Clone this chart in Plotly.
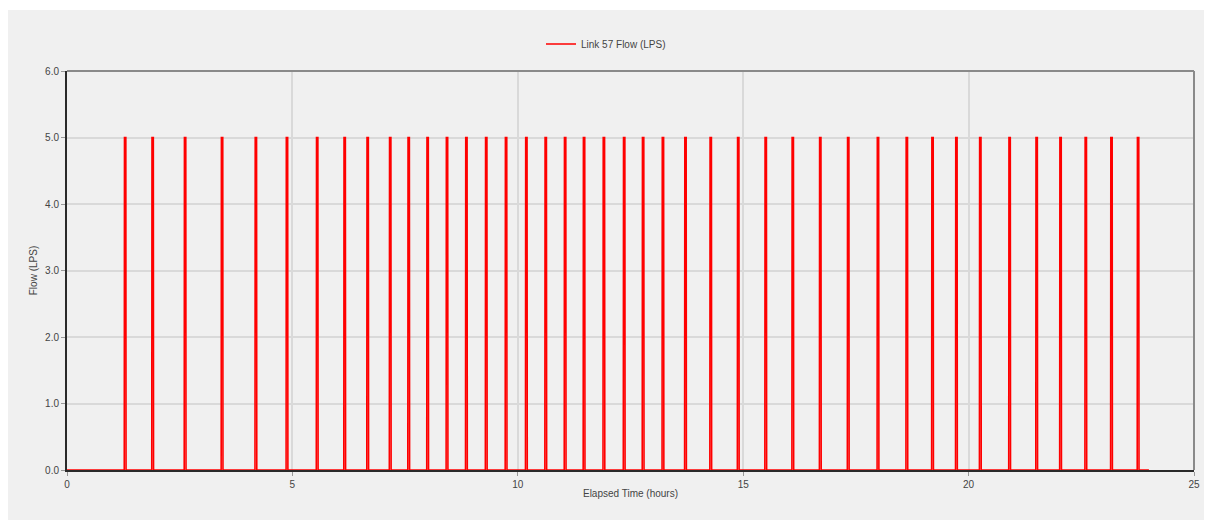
import plotly.graph_objects as go

# Spike (pump-on) start times, hours
spike_times = [1.27, 1.88, 2.60, 3.42, 4.17, 4.86, 5.53, 6.14, 6.65, 7.15,
               7.56, 7.98, 8.41, 8.84, 9.28, 9.72, 10.17, 10.60, 11.03, 11.45,
               11.89, 12.34, 12.76, 13.20, 13.70, 14.26, 14.87, 15.48, 16.08, 16.69,
               17.31, 17.97, 18.61, 19.18, 19.71, 20.24, 20.89, 21.49, 22.02, 22.58,
               23.15, 23.74]
peak_flow = 5.0
base_flow = 0.0
pulse_width = 0.04
sim_start = 0.0
sim_end = 24.0

# Build the time/flow series
t = [sim_start]
q = [base_flow]
for s in spike_times:
    t += [s, s + 0.005, s + pulse_width - 0.005, s + pulse_width]
    q += [base_flow, peak_flow, peak_flow, base_flow]
t.append(sim_end)
q.append(base_flow)

x_ticks = [0, 5, 10, 15, 20, 25]
y_ticks = [0, 1, 2, 3, 4, 5, 6]

fig = go.Figure()
fig.add_trace(go.Scatter(x=t, y=q, mode="lines", name="Link 57 Flow (LPS)",
                         line=dict(color="#ff0000", width=1.6)))

# the page body has an 8px margin, so figure coords = page coords - 8
OFF = 8
W, H = 1212 - OFF, 520 - OFF
L, T = 67 - OFF, 71 - OFF
R = W - (1194 - OFF)
B = H - (470 - OFF)
pw, ph = W - L - R, H - T - B

def px(xpage):
    return (xpage - OFF - L) / pw

def py(ypage):
    return (H - B - (ypage - OFF)) / ph

font_family = "Liberation Sans, Arial, sans-serif"

fig.update_layout(
    width=W, height=H,
    margin=dict(l=L, r=R, t=T, b=B),
    paper_bgcolor="white",
    plot_bgcolor="white",
    font=dict(family=font_family, size=10, color="#444444"),
    showlegend=True,
    legend=dict(x=px(541), y=py(44), xanchor="left", yanchor="middle",
                bgcolor="rgba(0,0,0,0)", font=dict(size=10, color="#444444"),
                itemwidth=30),
    xaxis=dict(range=[0, 25], tickvals=x_ticks, ticktext=[str(v) for v in x_ticks],
               showgrid=True, gridcolor="#d9d9d9", gridwidth=1.5,
               zeroline=False, showline=True, linecolor="#2a2a2a", linewidth=2,
               ticks="outside", ticklen=4, tickcolor="#999999",
               title=dict(text="Elapsed Time (hours)", standoff=1,
                          font=dict(size=10, color="#444444"))),
    yaxis=dict(range=[0, 6], tickvals=y_ticks, ticktext=[f"{v:.1f}" for v in y_ticks],
               showgrid=True, gridcolor="#d9d9d9", gridwidth=1.5,
               zeroline=False, showline=True, linecolor="#2a2a2a", linewidth=2,
               ticks="outside", ticklen=4, tickcolor="#999999",
               title=dict(text="Flow (LPS)", standoff=6,
                          font=dict(size=10, color="#444444"))),
    shapes=[
        dict(type="rect", xref="paper", yref="paper", layer="below",
             x0=px(6), x1=px(1212 + 5), y0=py(520 + 5), y1=py(10),
             fillcolor="#f0f0f0", line=dict(width=0)),
        dict(type="line", xref="paper", yref="paper", x0=0, x1=1, y0=1, y1=1,
             line=dict(color="#8a8a8a", width=2)),
        dict(type="line", xref="paper", yref="paper", x0=1, x1=1, y0=0, y1=1,
             line=dict(color="#8a8a8a", width=2)),
    ],
)

fig.write_html("out.html")
